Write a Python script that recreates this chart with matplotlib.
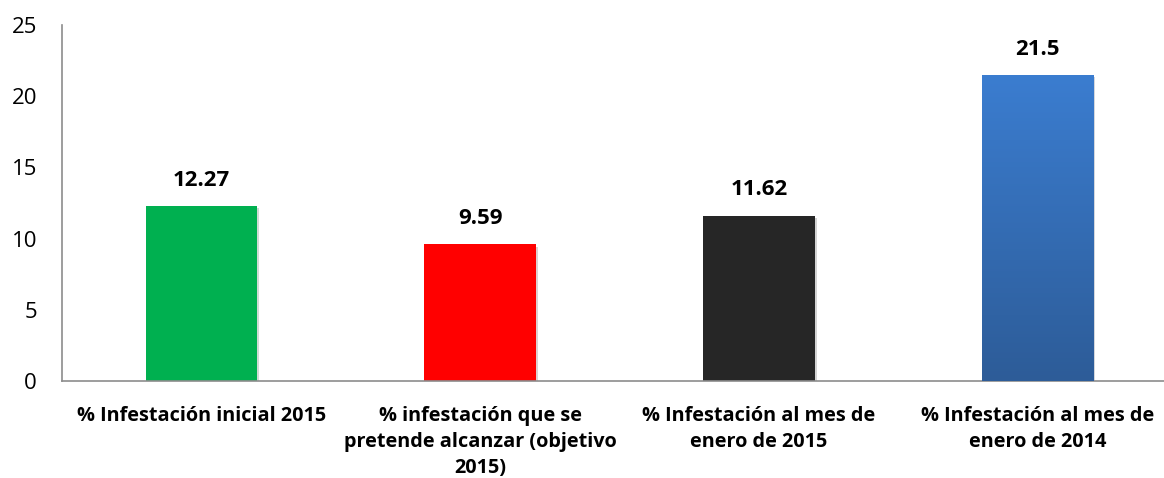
import numpy as np
import matplotlib
matplotlib.use("Agg")
import matplotlib.pyplot as plt
import matplotlib.patheffects as pe
from matplotlib.colors import LinearSegmentedColormap

categories = [
    "% Infestación inicial 2015",
    "% infestación que se\npretende alcanzar (objetivo\n2015)",
    "% Infestación al mes de\nenero de 2015",
    "% Infestación al mes de\nenero de 2014",
]
values = [12.27, 9.59, 11.62, 21.5]
value_labels = ["12.27", "9.59", "11.62", "21.5"]
colors = ["#00B050", "#FF0000", "#262626", "#3A7CCB"]

plt.rcParams["font.family"] = ["Open Sans", "DejaVu Sans"]

fig = plt.figure(figsize=(11.64, 4.78), dpi=100)
ax = fig.add_axes([62 / 1164, 97 / 478, 1115 / 1164, 356 / 478])

x = np.arange(len(values))
bars = ax.bar(x, values, width=0.40, color=colors, zorder=2)
for b in bars:
    b.set_path_effects([pe.SimplePatchShadow(offset=(1.5, -1.5), alpha=0.18),
                        pe.Normal()])

# gradient on the last bar
blue = LinearSegmentedColormap.from_list("blue", ["#2D5C98", "#3B7DD0"])
b = bars[-1]
grad = np.linspace(0, 1, 256).reshape(-1, 1)
im = ax.imshow(grad, cmap=blue, aspect="auto", origin="lower",
               extent=[b.get_x(), b.get_x() + b.get_width(), 0, b.get_height()],
               zorder=3)
im.set_clip_path(b)

for xi, v, lab in zip(x, values, value_labels):
    ax.annotate(lab, (xi, v), xytext=(0, 11), textcoords="offset points",
                ha="center", va="bottom", fontsize=16, fontweight="bold")

ax.set_xlim(-0.5, 3.5)
ax.set_ylim(0, 25)
ax.set_yticks([0, 5, 10, 15, 20, 25])
ax.set_xticks(x)
ax.set_xticklabels(categories, fontsize=14.3, fontweight="bold", linespacing=1.4)
ax.tick_params(axis="y", length=0, pad=18, labelsize=16)
ax.tick_params(axis="x", length=0, pad=18)

for s in ["top", "right"]:
    ax.spines[s].set_visible(False)
for s in ["left", "bottom"]:
    ax.spines[s].set_color("#8C8C8C")
    ax.spines[s].set_linewidth(1.2)

fig.savefig("out.png", dpi=100)
